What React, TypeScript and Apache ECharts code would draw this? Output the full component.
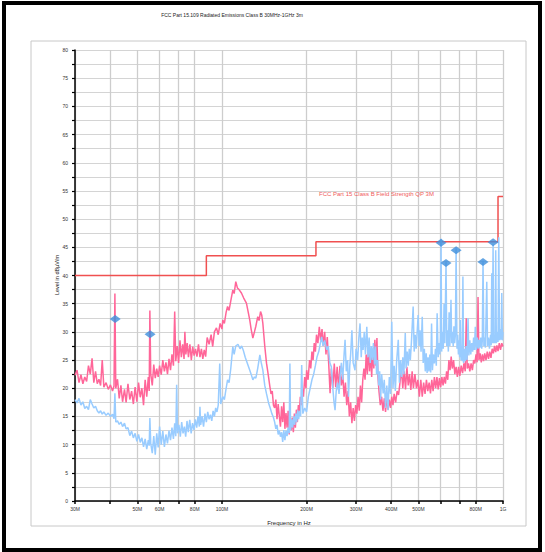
import React, { useEffect, useRef } from "react";
import * as echarts from "echarts";

const chartTitle = "FCC Part 15.109 Radiated Emissions Class B 30MHz-1GHz 3m";
const limitName = "FCC Part 15 Class B Field Strength QP 3M";
const xAxisName = "Frequency in Hz";
const yAxisName = "Level in dBµV/m";

// frequency axis (MHz)
const tickFreqs = [30, 40, 50, 60, 70, 80, 100, 200, 300, 400, 500, 600, 700, 800, 1000];
const labelFreqs = [30, 50, 60, 80, 100, 200, 300, 400, 500, 800, 1000];
const labelTexts = ["30M", "50M", "60M", "80M", "100M", "200M", "300M", "400M", "500M", "800M", "1G"];

// limit line
const limitFreqs = [30, 88, 88, 216, 216, 960, 960, 1000];
const limitLevels = [40, 40, 43.5, 43.5, 46, 46, 54, 54];

// markers
const markerFreqs = [41.7, 55.5, 602, 627, 681, 849, 922];
const markerLevels = [32.3, 29.6, 45.8, 42.2, 44.5, 42.4, 45.9];

// trace 1 (red) [MHz, dBµV/m]
const redTrace: [number, number][] = [
  [30.0, 22.3], [30.5, 23.2], [31.0, 21.0], [31.5, 22.4], [32.0, 20.8], [32.5, 22.0], [33.0, 21.2], [33.5, 24.0],
  [34.0, 22.5], [34.5, 25.3], [35.0, 21.0], [35.5, 23.0], [36.0, 20.8], [36.5, 21.6], [37.0, 20.5], [37.5, 25.0],
  [38.0, 20.2], [38.7, 21.0], [39.4, 19.8], [40.1, 20.6], [40.8, 19.5], [41.3, 20.4], [41.6, 36.8], [41.9, 20.0],
  [42.5, 21.6], [43.1, 18.2], [43.7, 20.5], [44.3, 17.6], [45.0, 19.8], [45.6, 17.5], [46.3, 20.8], [47.0, 18.0],
  [47.7, 19.5], [48.4, 17.2], [49.1, 20.2], [49.8, 17.6], [50.5, 21.0], [51.2, 18.4], [51.9, 20.0], [52.6, 17.0],
  [53.3, 21.5], [54.0, 18.5], [54.7, 22.0], [55.1, 19.5], [55.4, 33.8], [55.8, 22.5], [56.5, 20.5], [57.2, 24.2],
  [57.9, 21.8], [58.6, 23.5], [59.3, 22.0], [60.0, 24.0], [60.8, 22.4], [61.6, 25.0], [62.4, 23.0], [63.2, 24.6],
  [64.0, 22.5], [64.8, 25.2], [65.6, 23.2], [66.4, 26.0], [67.2, 24.0], [67.9, 33.6], [68.5, 24.8], [69.3, 27.5],
  [70.1, 24.5], [70.9, 28.5], [71.7, 25.5], [72.5, 27.8], [73.3, 25.2], [73.8, 30.0], [74.4, 26.0], [75.2, 28.0],
  [76.0, 25.5], [76.9, 27.8], [77.8, 25.0], [78.7, 27.4], [79.6, 25.8], [80.5, 27.0], [81.5, 25.6], [82.5, 27.8],
  [83.5, 25.5], [84.5, 27.0], [85.5, 25.2], [86.5, 26.8], [87.5, 25.6], [88.6, 29.0], [90.0, 27.8], [91.5, 29.5],
  [92.7, 27.4], [94.0, 30.0], [95.6, 30.7], [97.0, 29.5], [98.5, 31.5], [100.0, 30.5], [100.7, 32.1], [102.0, 31.5],
  [103.5, 33.5], [104.7, 34.5], [106.0, 33.8], [107.5, 35.5], [109.3, 37.4], [110.5, 36.8], [112.0, 38.9], [113.5, 37.8],
  [115.0, 37.5], [117.3, 36.9], [119.5, 36.0], [122.2, 35.1], [124.0, 33.5], [125.6, 32.1], [127.0, 30.5], [128.8, 28.9],
  [130.5, 30.0], [132.0, 31.0], [134.1, 32.7], [135.5, 32.0], [137.2, 33.6], [138.5, 33.0], [139.8, 31.5], [142.0, 27.5],
  [144.1, 24.4], [146.0, 22.5], [148.1, 20.3], [149.5, 19.0], [151.0, 19.5], [152.5, 17.0], [154.0, 16.5], [155.5, 18.0],
  [157.0, 14.5], [158.5, 17.2], [160.0, 15.0], [161.5, 13.2], [163.0, 16.8], [164.5, 14.0], [166.0, 17.5], [167.5, 12.8],
  [169.0, 15.6], [170.5, 13.0], [172.0, 16.0], [173.5, 11.8], [175.0, 15.0], [176.5, 12.5], [178.0, 14.8], [179.5, 12.2],
  [181.0, 15.5], [182.5, 13.0], [184.0, 16.2], [185.5, 14.0], [187.0, 17.0], [188.5, 15.5], [190.0, 18.5], [191.5, 17.0],
  [193.0, 20.0], [195.0, 18.5], [197.0, 22.0], [199.0, 20.0], [200.2, 23.2], [202.5, 21.5], [205.0, 25.0], [207.0, 23.5],
  [209.0, 26.5], [211.0, 25.0], [213.0, 28.0], [215.0, 26.5], [217.0, 29.5], [219.5, 28.0], [222.0, 30.9], [224.5, 28.5],
  [227.0, 30.5], [229.5, 27.5], [232.0, 30.0], [234.5, 26.0], [237.0, 29.1], [240.0, 24.0], [242.5, 19.1], [245, 23.5],
  [248, 20.0], [251, 24.4], [254, 20.2], [257, 23.8], [260, 19.8], [263, 24.0], [266, 20.5], [269, 22.5],
  [272, 18.5], [275, 21.0], [278, 17.0], [281, 19.5], [284, 15.0], [287, 17.5], [290, 13.8], [293, 16.5],
  [296, 14.2], [299, 17.0], [302, 15.5], [305, 18.5], [308, 16.0], [311, 20.5], [314, 17.5], [317, 21.5],
  [320, 23.5], [323, 21.5], [326, 26.0], [329, 22.5], [332, 27.5], [335, 23.0], [338, 26.5], [341, 22.0],
  [344, 27.0], [347, 23.5], [350, 28.6], [353, 24.0], [356, 28.9], [359, 22.0], [362, 19.5], [366, 17.0],
  [370, 18.5], [374, 16.0], [378, 18.2], [382, 15.8], [386, 18.5], [390, 16.2], [394, 18.0], [398, 16.5],
  [402, 18.5], [406, 17.0], [410, 19.0], [415, 17.5], [420, 19.5], [425, 18.8], [430, 21.0], [435, 23.5],
  [440, 20.0], [445, 23.0], [450, 19.8], [455, 23.8], [460, 20.5], [465, 22.5], [470, 19.7], [475, 23.0],
  [480, 20.0], [486, 22.5], [492, 20.0], [498, 21.5], [504, 18.5], [510, 21.5], [516, 18.5], [522, 21.0],
  [528, 19.0], [534, 21.5], [540, 19.5], [546, 21.0], [552, 19.1], [558, 21.5], [564, 19.5], [570, 22.0],
  [576, 20.0], [582, 22.0], [588, 19.8], [594, 21.8], [600, 20.2], [606, 22.0], [612, 20.5], [618, 22.0],
  [624, 20.8], [630, 23.0], [636, 21.5], [642, 25.0], [648, 23.2], [654, 25.6], [660, 23.5], [667, 25.0],
  [674, 22.5], [681, 23.8], [688, 22.0], [695, 23.8], [702, 22.2], [710, 24.0], [718, 22.7], [726, 24.4],
  [734, 23.0], [740, 32.4], [746, 23.5], [754, 24.4], [762, 23.0], [770, 24.4], [778, 23.2], [786, 25.0],
  [794, 24.4], [802, 26.0], [809, 24.6], [815, 36.2], [821, 25.0], [829, 26.2], [837, 24.6], [845, 26.0],
  [853, 24.8], [861, 26.2], [870, 25.0], [879, 26.5], [888, 25.2], [897, 26.5], [906, 25.4], [915, 27.0],
  [924, 26.2], [933, 27.5], [942, 26.4], [951, 27.6], [960, 26.6], [970, 28.0], [980, 26.8], [990, 28.0],
  [1000, 27.4],
];

// trace 2 (blue) [MHz, dBµV/m]
const blueTrace: [number, number][] = [
  [30.0, 18.0], [30.5, 17.4], [31.0, 18.2], [31.5, 17.0], [32.0, 17.6], [32.5, 16.4], [33.0, 16.8], [33.5, 16.2],
  [34.0, 18.0], [34.5, 17.2], [35.0, 16.5], [35.5, 16.8], [36.0, 16.0], [36.5, 15.6], [37.0, 16.0], [37.5, 15.4],
  [38.0, 15.8], [38.7, 15.2], [39.4, 15.6], [40.1, 15.0], [40.8, 15.4], [41.3, 14.6], [41.6, 19.1], [41.9, 14.0],
  [42.5, 14.2], [43.1, 13.6], [43.7, 14.0], [44.3, 13.2], [45.0, 13.8], [45.6, 12.8], [46.3, 13.0], [47.0, 11.6],
  [47.7, 12.4], [48.4, 11.2], [49.1, 12.0], [49.8, 10.6], [50.5, 11.8], [51.2, 10.4], [51.9, 11.2], [52.6, 9.6],
  [53.3, 11.0], [54.0, 9.2], [54.7, 10.8], [55.1, 9.8], [55.4, 14.7], [55.8, 10.2], [56.5, 8.5], [57.2, 11.5],
  [57.9, 8.2], [58.6, 12.0], [59.3, 9.5], [60.0, 13.2], [60.8, 10.0], [61.6, 12.4], [62.4, 9.6], [63.2, 11.8],
  [64.0, 10.2], [64.8, 12.5], [65.6, 10.8], [66.4, 13.0], [67.2, 11.0], [67.9, 13.8], [68.5, 11.5], [69.0, 20.6],
  [69.5, 12.0], [70.3, 13.5], [71.1, 11.4], [71.9, 14.0], [72.7, 12.0], [73.5, 13.2], [74.3, 11.4], [75.1, 14.2],
  [75.9, 12.2], [76.8, 14.4], [77.7, 12.0], [78.6, 13.8], [79.5, 12.6], [80.4, 14.5], [81.3, 13.0], [82.2, 15.0],
  [83.1, 13.2], [83.5, 16.7], [84.0, 13.5], [85.0, 15.0], [86.0, 13.2], [87.0, 15.5], [88.0, 14.0], [89.0, 15.8],
  [90.0, 14.5], [91.0, 15.3], [92.0, 14.2], [93.0, 16.0], [94.0, 15.0], [95.0, 16.5], [96.0, 15.8], [97.0, 17.0],
  [98.2, 24.4], [99.0, 17.2], [100.7, 18.5], [102.0, 18.0], [103.5, 20.0], [104.7, 21.5], [106.0, 21.0], [107.5, 23.5],
  [109.3, 27.4], [110.5, 26.0], [112.0, 27.5], [114.0, 27.8], [116.0, 27.0], [117.5, 27.5], [119.0, 26.8], [121.0, 25.5],
  [123.0, 24.5], [125.6, 23.2], [127.0, 22.5], [128.8, 21.5], [130.5, 22.0], [132.0, 21.8], [134.0, 23.5], [136.4, 25.9],
  [138.0, 24.5], [139.8, 23.2], [142.0, 20.5], [144.1, 19.0], [146.5, 17.4], [148.5, 16.5], [150.5, 15.5], [152.5, 14.8],
  [154.0, 14.0], [155.5, 12.8], [157.0, 13.5], [158.5, 11.8], [160.0, 12.5], [161.5, 11.4], [163.0, 12.2], [164.5, 10.5],
  [166.0, 12.6], [167.5, 10.8], [169.0, 12.5], [170.5, 11.5], [172.0, 13.0], [173.5, 12.0], [174.5, 24.4], [175.5, 12.5],
  [177.0, 14.5], [178.5, 13.0], [180.0, 15.0], [181.5, 13.5], [183.0, 15.5], [184.5, 14.0], [186.0, 16.1], [187.5, 14.5],
  [189.0, 16.0], [190.5, 15.0], [192.2, 24.1], [194.0, 15.5], [197.0, 16.5], [200.0, 15.8], [203.0, 18.5], [206.0, 20.0],
  [209.0, 21.5], [212.0, 22.5], [215.0, 24.0], [218.0, 25.6], [221.0, 26.5], [224.0, 28.0], [226.4, 29.1], [229.0, 27.5],
  [232.0, 28.5], [236.0, 26.8], [239.0, 27.5], [242.0, 24.5], [245.0, 23.8], [248.0, 20.0], [250.5, 17.5], [252.6, 16.1],
  [255.0, 19.5], [258.0, 21.0], [261.0, 19.0], [263.2, 22.0], [266.0, 24.5], [269.0, 21.5], [272.0, 26.0], [274.2, 28.6],
  [277.0, 23.0], [280.0, 25.0], [282.0, 18.5], [285.0, 24.0], [287.0, 26.0], [290.0, 30.3], [293.0, 24.5], [297.5, 23.2],
  [300.0, 27.0], [304.0, 25.0], [307.0, 29.0], [310.0, 31.5], [313.0, 25.5], [315.5, 29.0], [317.8, 26.8], [321.0, 30.0],
  [324.0, 26.0], [327.6, 30.9], [331.0, 25.5], [334.0, 29.0], [337.0, 24.5], [340.0, 27.5], [343.0, 25.0], [346.0, 28.0],
  [349.0, 24.2], [352.0, 27.4], [355.0, 22.5], [358.0, 25.0], [361.0, 20.5], [364.0, 23.0], [367.0, 18.0], [370.0, 22.5],
  [374.7, 19.1], [378.0, 21.5], [382.0, 16.5], [386.0, 20.5], [390.0, 16.1], [394.0, 22.0], [398.0, 19.0], [402.0, 31.8],
  [406.0, 20.0], [410.0, 24.0], [414.0, 19.5], [418.0, 24.5], [424.0, 28.6], [428.0, 21.0], [432.0, 25.0], [436.0, 22.0],
  [440.0, 25.5], [444.0, 22.5], [449.0, 29.8], [452.0, 23.5], [456.0, 26.5], [460.0, 24.0], [464.0, 27.0], [468.0, 25.0],
  [472.0, 28.0], [479.0, 34.5], [483.0, 26.5], [487.0, 29.5], [491.0, 27.0], [495.0, 30.0], [499.0, 33.0], [503.0, 27.5],
  [507.0, 30.3], [511.0, 26.5], [516.0, 32.7], [520.0, 24.5], [525.0, 27.0], [529.0, 23.0], [533.0, 26.2], [537.0, 22.7],
  [541.0, 25.5], [545.0, 23.0], [549.0, 26.0], [553.0, 22.8], [557.0, 31.5], [561.0, 23.2], [565.0, 26.0], [570.0, 24.4],
  [575.0, 27.0], [579.0, 24.0], [583.0, 33.3], [588.0, 25.5], [592.0, 28.0], [596.0, 26.0], [599.0, 29.0], [602.0, 46.5],
  [605.0, 26.5], [609.0, 30.0], [613.0, 27.0], [617.0, 35.0], [621.0, 28.0], [627.0, 42.5], [631.0, 27.5], [635.0, 30.3],
  [639.0, 26.5], [643.0, 33.5], [647.0, 27.5], [653.0, 35.7], [657.0, 28.0], [661.0, 30.0], [665.0, 27.4], [669.0, 31.0],
  [673.0, 28.0], [677.0, 29.5], [681.0, 44.8], [686.0, 27.0], [690.0, 29.5], [694.0, 26.0], [698.0, 28.5], [701.0, 25.5],
  [705.0, 32.1], [709.0, 25.0], [713.0, 27.5], [716.0, 24.8], [720.0, 39.8], [724.0, 24.5], [729.0, 27.0], [734.0, 24.8],
  [739.0, 27.5], [745.0, 25.0], [751.0, 32.4], [756.0, 25.8], [762.0, 28.5], [768.0, 26.0], [774.0, 28.0], [780.0, 26.5],
  [786.0, 29.0], [791.0, 26.8], [797.0, 30.9], [803.0, 26.8], [810.0, 29.0], [816.0, 27.0], [822.0, 28.6], [828.0, 27.2],
  [834.0, 29.0], [840.0, 27.0], [844.0, 28.5], [849.0, 42.6], [855.0, 27.5], [861.0, 29.0], [866.0, 27.2], [875.5, 38.9],
  [881.0, 27.5], [888.0, 29.0], [895.0, 27.0], [903.0, 29.5], [908.0, 27.6], [912.0, 40.4], [916.0, 28.0], [922.0, 45.5],
  [927.0, 28.0], [934.0, 29.5], [938.0, 28.0], [942.0, 44.5], [947.0, 28.0], [954.0, 30.0], [960.0, 28.2], [966.0, 46.8],
  [972.0, 28.5], [980.0, 30.5], [985.0, 28.6], [990.0, 36.9], [995.0, 28.5], [1000.0, 30.0],
];

const FONT = "'Liberation Sans', Arial, sans-serif";

export default function App() {
  const ref = useRef<HTMLDivElement>(null);
  useEffect(() => {
    if (!ref.current) return;
    const chart = echarts.init(ref.current, null, { renderer: "svg" });
    const lg = (f: number) => Math.log10(f);
    const tickVals = tickFreqs.map(lg);
    const labelVals = labelFreqs.map(lg);
    const toXY = (arr: [number, number][]) => arr.map(([f, v]) => [lg(f), v]);

    chart.setOption({
      animation: false,
      backgroundColor: "#ffffff",
      textStyle: { fontFamily: FONT },
      grid: { left: 75, right: 42, top: 50, bottom: 51, containLabel: false, outerBoundsMode: "none" },
      graphic: [
        {
          type: "rect",
          shape: { x: 4, y: 3, width: 536, height: 547 },
          style: { fill: "none", stroke: "#000", lineWidth: 4 },
          silent: true,
          z: -10,
        },
        {
          type: "rect",
          shape: { x: 31, y: 41, width: 495, height: 485 },
          style: { fill: "none", stroke: "#c8c8c8", lineWidth: 1 },
          silent: true,
          z: -10,
        },
        {
          type: "text",
          x: 232,
          y: 15,
          style: { text: chartTitle, fontSize: 5, fill: "#222", align: "center", verticalAlign: "middle", fontFamily: FONT },
        },
        {
          type: "text",
          x: 319,
          y: 194,
          style: { text: limitName, fontSize: 6, fill: "#f05a5a", align: "left", verticalAlign: "middle", fontFamily: FONT },
          z: 50,
        },
        {
          type: "text",
          x: 57,
          y: 275,
          rotation: Math.PI / 2,
          style: { text: yAxisName, fontSize: 5.5, fill: "#222", align: "center", verticalAlign: "middle", fontFamily: FONT },
        },
      ],
      xAxis: {
        type: "value",
        min: lg(30),
        max: 3,
        name: xAxisName,
        nameLocation: "middle",
        nameGap: 19,
        nameTextStyle: { fontSize: 6, color: "#222", fontFamily: FONT },
        axisLine: { show: true, onZero: false, lineStyle: { color: "#000", width: 1.5 } },
        axisTick: { show: true, customValues: tickVals, length: 3, lineStyle: { color: "#000", width: 1.5 } },
        axisLabel: {
          customValues: labelVals,
          fontSize: 5,
          color: "#333",
          margin: 5,
          fontFamily: FONT,
          formatter: (v: number) => {
            const i = labelVals.findIndex((x) => Math.abs(x - v) < 1e-6);
            return i >= 0 ? labelTexts[i] : "";
          },
        },
        splitLine: { show: true, lineStyle: { color: "#cdcdcd", width: 1.3 } },
      },
      yAxis: {
        type: "value",
        min: 0,
        max: 80,
        interval: 2.5,
        axisLine: { show: true, lineStyle: { color: "#000", width: 1.5 } },
        axisTick: { show: true, length: 3, lineStyle: { color: "#000", width: 1.2 } },
        axisLabel: {
          fontSize: 5,
          color: "#333",
          margin: 7,
          fontFamily: FONT,
          formatter: (v: number) => (Math.abs(v % 5) < 1e-6 ? String(v) : ""),
        },
        splitLine: { show: true, lineStyle: { color: "#d4d4d4", width: 1 } },
      },
      series: [
        {
          name: "Limit",
          type: "line",
          data: limitFreqs.map((f, i) => [lg(f), limitLevels[i]]),
          showSymbol: false,
          symbol: "none",
          lineStyle: { color: "#f05050", width: 1.5 },
          z: 2,
        },
        {
          name: "Trace 1",
          type: "line",
          data: toXY(redTrace),
          symbol: "none",
          lineStyle: { color: "#ff6699", width: 1.5 },
          z: 3,
        },
        {
          name: "Trace 2",
          type: "line",
          data: toXY(blueTrace),
          symbol: "none",
          lineStyle: { color: "#99ccff", width: 1.5 },
          z: 4,
        },
        {
          name: "Markers",
          type: "scatter",
          data: markerFreqs.map((f, i) => [lg(f), markerLevels[i]]),
          symbol: "diamond",
          symbolSize: [11, 8],
          itemStyle: { color: "#3d8fdc" },
          z: 10,
        },
      ],
    });
    return () => chart.dispose();
  }, []);
  return (
    <div
      ref={ref}
      style={{ position: "fixed", left: 0, top: 0, width: 545, height: 552, background: "#fff" }}
    />
  );
}
